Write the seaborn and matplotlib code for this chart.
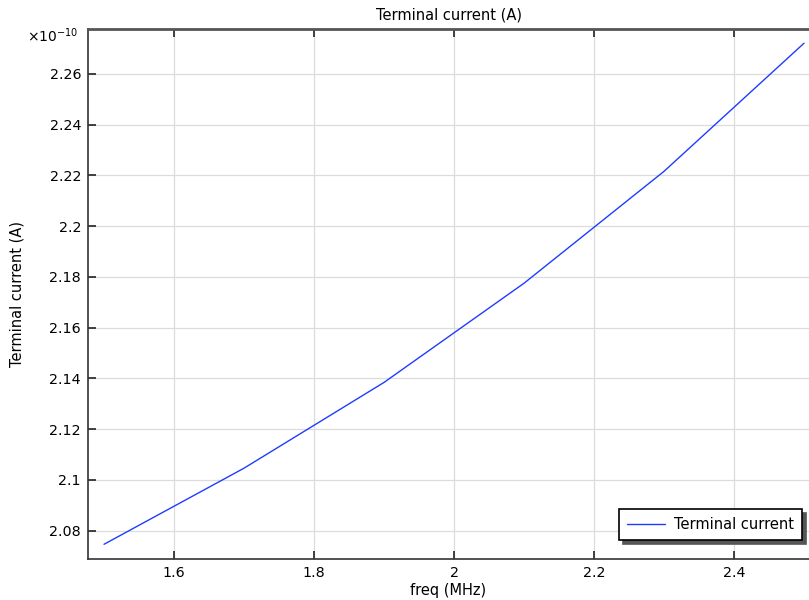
import numpy as np
import pandas as pd
import matplotlib
matplotlib.use("Agg")
import matplotlib.pyplot as plt
import seaborn as sns
from matplotlib.ticker import FuncFormatter, MultipleLocator

# data (current in A)
freq_mhz = [1.5, 1.7, 1.9, 2.1, 2.3, 2.5]
terminal_current = [2.0746e-10, 2.1046e-10, 2.1384e-10, 2.1775e-10, 2.2216e-10, 2.2721e-10]

scale = 1e-10
df = pd.DataFrame({
    "freq (MHz)": freq_mhz,
    "current": np.array(terminal_current) / scale,
    "series": "Terminal current",
})

sns.set_theme(style="whitegrid")
plt.rcParams["font.family"] = ["DejaVu Sans"]

fig = plt.figure(figsize=(8.09, 6.0), dpi=100)
ax = fig.add_axes([88 / 809, 41 / 600, 721 / 809, 530 / 600])

sns.lineplot(data=df, x="freq (MHz)", y="current", hue="series",
             palette=["#1f3cff"], linewidth=1.0, ax=ax)

ax.set_xlim(1.4771, 2.5071)
ax.set_ylim(2.0688, 2.2777)
ax.xaxis.set_major_locator(MultipleLocator(0.2))
ax.yaxis.set_major_locator(MultipleLocator(0.02))
ax.xaxis.set_major_formatter(FuncFormatter(lambda v, p: f"{v:.1f}".rstrip("0").rstrip(".")))
ax.yaxis.set_major_formatter(FuncFormatter(lambda v, p: f"{v:.2f}".rstrip("0").rstrip(".")))

ax.set_facecolor("white")
ax.grid(True, color="#dcdcdc", linewidth=0.9)
for side in ["left", "bottom", "top"]:
    ax.spines[side].set_visible(True)
    ax.spines[side].set_color("#333333")
    ax.spines[side].set_linewidth(1.2)
ax.spines["top"].set_color("#555555")
ax.spines["top"].set_linewidth(2.0)
ax.spines["right"].set_visible(False)

ax.tick_params(axis="both", direction="in", length=6, width=1.2, color="#222222",
               labelsize=10.3, labelcolor="black", pad=5)
ax.tick_params(axis="x", top=True, bottom=True)
ax.tick_params(axis="y", left=True, right=False)

ax.set_title("Terminal current (A)", fontsize=10.5, color="black", pad=7)
ax.set_xlabel("freq (MHz)", fontsize=10.5, color="black", labelpad=2)
ax.set_ylabel("Terminal current (A)", fontsize=10.5, color="black", labelpad=18)
# multiplier shown above the y axis
fig.text(27 / 809, 1 - 36 / 600, r"$\times$10$^{-10}$", fontsize=10, color="black",
         va="center", ha="left")

leg = ax.legend(loc="lower right", bbox_to_anchor=(0.990, 0.036), borderaxespad=0,
                frameon=True, fancybox=False,
                shadow={"color": "#555555", "alpha": 1.0, "ox": 3, "oy": -3},
                fontsize=10.5, borderpad=0.55, handlelength=2.6, handletextpad=0.6,
                edgecolor="black")
leg.get_frame().set_linewidth(1.2)
leg.get_frame().set_facecolor("white")
leg.get_frame().set_alpha(1.0)
for t in leg.get_texts():
    t.set_color("black")

fig.savefig("out.png", dpi=100)
